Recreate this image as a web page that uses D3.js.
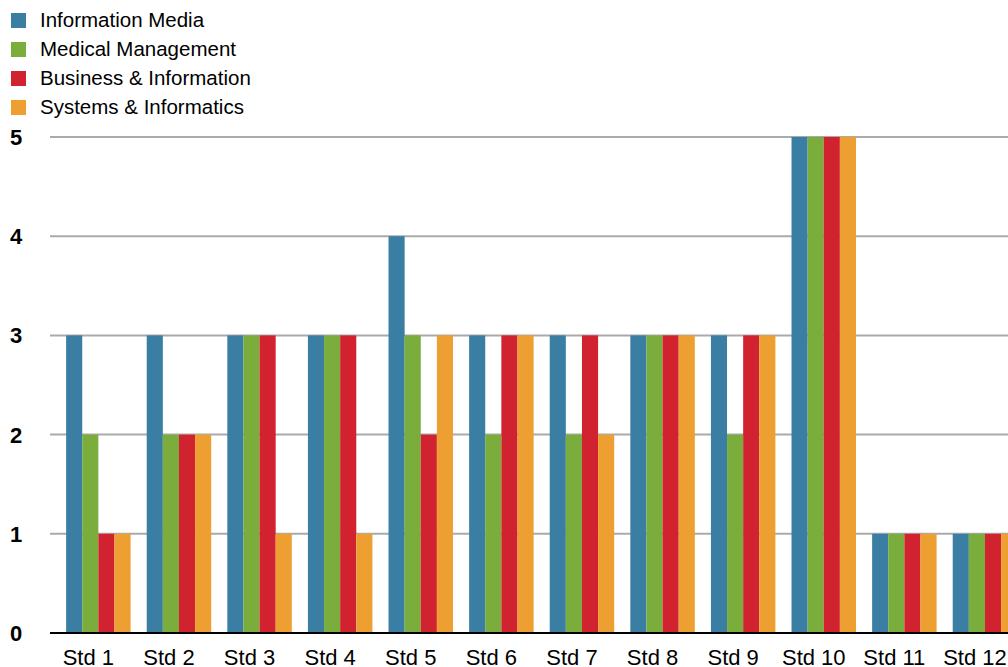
<!doctype html>
<html>
  <head>
    <title>Std chart</title>
    <script src="https://d3js.org/d3.v7.min.js"></script>
    <style>
        body {
            margin: 0;
            padding: 0;
            background: #fff;
        }
        html {
            font-family: Helvetica, Arial, "Liberation Sans", sans-serif;
        }
    </style>
  </head>
  <body>
        <div id="chart"></div>
        <script>

            /*
            Data
            */
            var categories = ["Std 1","Std 2","Std 3","Std 4","Std 5","Std 6",
                "Std 7","Std 8","Std 9","Std 10","Std 11","Std 12"];
            var seriesNames = ["Information Media","Medical Management",
                "Business & Information","Systems & Informatics"];
            var seriesColors = ["#3a7fa3","#7aad3c","#d1232f","#eda031"];
            var informationMedia    = [3,3,3,3,4,3,3,3,3,5,1,1];
            var medicalManagement   = [2,2,3,3,3,2,2,3,2,5,1,1];
            var businessInformation = [1,2,3,3,2,3,3,3,3,5,1,1];
            var systemsInformatics  = [1,2,1,1,3,3,2,3,3,5,1,1];
            var yTicks = [0,1,2,3,4,5];

            var seriesValues = [informationMedia, medicalManagement,
                businessInformation, systemsInformatics];

            /*
            Initial SVG values
            */
            var width = 1008;
            var height = 667;
            var left = 50;
            var baseY = 633;
            var topY = 137;

            var svg = d3.select("#chart")
                .append("svg")
                .attr("width", width)
                .attr("height", height);

            var x = d3.scaleBand()
                .domain(categories)
                .range([left, left + 80.6 * 12.2])
                .paddingInner(0.2)
                .paddingOuter(0.2);

            var xs = d3.scaleBand()
                .domain(seriesNames)
                .range([0, x.bandwidth()]);

            var y = d3.scaleLinear()
                .domain([0, 5])
                .range([baseY, topY]);

            /*
            Grid lines and y labels
            */
            svg.selectAll("line.grid")
                .data(yTicks.filter((d) => d > 0))
                .enter()
                .append("line")
                .attr("class", "grid")
                .attr("x1", left)
                .attr("x2", width)
                .attr("y1", (d) => y(d))
                .attr("y2", (d) => y(d))
                .attr("stroke", "#aaaaaa")
                .attr("stroke-width", 2);

            svg.selectAll("text.ylab")
                .data(yTicks)
                .enter()
                .append("text")
                .attr("class", "ylab")
                .attr("x", 10)
                .attr("y", (d) => y(d))
                .attr("dy", "0.36em")
                .style("font-size", "22px")
                .style("font-weight", "bold")
                .text((d) => d);

            /*
            Bars
            */
            var groups = svg.selectAll("g.group")
                .data(categories)
                .enter()
                .append("g")
                .attr("class", "group")
                .attr("transform", (d) => "translate(" + x(d) + ",0)");

            groups.selectAll("rect")
                .data((d, i) => seriesNames.map((s, j) => ({s: s, v: seriesValues[j][i], c: seriesColors[j]})))
                .enter()
                .append("rect")
                .attr("x", (d) => xs(d.s))
                .attr("width", xs.bandwidth())
                .attr("y", (d) => y(d.v))
                .attr("height", (d) => y(0) - y(d.v))
                .style("fill", (d) => d.c);

            // baseline
            svg.append("line")
                .attr("x1", left)
                .attr("x2", width)
                .attr("y1", y(0))
                .attr("y2", y(0))
                .attr("stroke", "#000")
                .attr("stroke-width", 2);

            // x labels
            svg.selectAll("text.xlab")
                .data(categories)
                .enter()
                .append("text")
                .attr("class", "xlab")
                .attr("x", (d) => x(d) + x.bandwidth() / 2 - 10)
                .attr("y", 665)
                .attr("text-anchor", "middle")
                .style("font-size", "22px")
                .text((d) => d);

            /*
            Legend
            */
            var legend = svg.selectAll("g.legend")
                .data(seriesNames)
                .enter()
                .append("g")
                .attr("class", "legend")
                .attr("transform", (d, i) => "translate(0," + (20 + i * 29) + ")");

            legend.append("rect")
                .attr("x", 11)
                .attr("y", -7)
                .attr("width", 15)
                .attr("height", 15)
                .style("fill", (d, i) => seriesColors[i]);

            legend.append("text")
                .attr("x", 40)
                .attr("dy", "0.36em")
                .style("font-size", "20.5px")
                .text((d) => d);

        </script>
    </body>
</html>
